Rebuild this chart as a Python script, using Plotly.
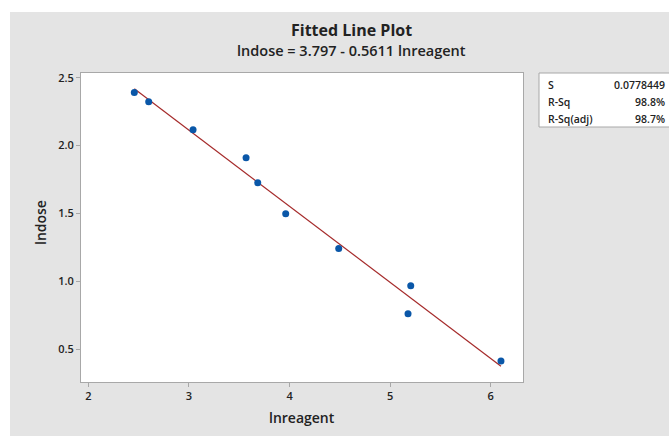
import plotly.graph_objects as go

# Data
lnreagent = [2.457, 2.600, 3.041, 3.568, 3.684, 3.962, 4.489, 5.205, 5.178, 6.102]
lndose = [2.392, 2.323, 2.117, 1.910, 1.726, 1.497, 1.242, 0.966, 0.760, 0.411]
intercept = 3.797
slope = -0.5611
stat_labels = ["S", "R-Sq", "R-Sq(adj)"]
stat_values = ["0.0778449", "98.8%", "98.7%"]
x_ticks = [2, 3, 4, 5, 6]
y_ticks = [0.5, 1.0, 1.5, 2.0, 2.5]

W, H = 669, 436
L, R, T, B = 81, 523, 73, 382  # plot area in picture pixels
pw, ph = R - L, B - T


def px(x):
    return (x - L) / pw


def py(y):
    return (B - y) / ph


xmin, xmax = min(lnreagent), max(lnreagent)
fit_x = [xmin, xmax]
fit_y = [intercept + slope * v for v in fit_x]

fig = go.Figure()
fig.add_trace(go.Scatter(x=fit_x, y=fit_y, mode="lines",
                         line=dict(color="#a52a2a", width=1.2), hoverinfo="skip"))
fig.add_trace(go.Scatter(x=lnreagent, y=lndose, mode="markers",
                         marker=dict(color="#0a57a8", size=7)))

GRAY = "#e4e4e4"
font_main = "Open Sans, Segoe UI, sans-serif"

shapes = [
    # gray panel (white strip left/top stays paper white)
    dict(type="rect", xref="paper", yref="paper", x0=px(10), x1=px(W + 10), y0=py(H + 10), y1=py(12),
         fillcolor=GRAY, line=dict(width=0), layer="below"),
    # white plot area
    dict(type="rect", xref="paper", yref="paper", x0=0, x1=1, y0=0, y1=1,
         fillcolor="white", line=dict(width=0), layer="below"),
    # stats box
    dict(type="rect", xref="paper", yref="paper", x0=px(539), x1=px(W + 3), y0=py(127), y1=py(73),
         fillcolor="white", line=dict(color="#a8a8a8", width=1), layer="below"),
]

annotations = [
    dict(text="<b>Fitted Line Plot</b>", x=px(351), y=py(30), xref="paper", yref="paper",
         showarrow=False, font=dict(size=16, color="#222", family=font_main), xanchor="center", yanchor="middle"),
    dict(text=f"lndose = {intercept:.3f} - {abs(slope):.4f} lnreagent", x=px(351), y=py(51), xref="paper", yref="paper",
         showarrow=False, font=dict(size=14.5, color="#222", family=font_main, weight=600), xanchor="center", yanchor="middle"),
    dict(text="lnreagent", x=px(302), y=py(417), xref="paper", yref="paper",
         showarrow=False, font=dict(size=14, color="#222", family=font_main, weight=600), xanchor="center", yanchor="middle"),
    dict(text="lndose", x=px(40), y=py(223), xref="paper", yref="paper", textangle=-90,
         showarrow=False, font=dict(size=14, color="#222", family=font_main, weight=600), xanchor="center", yanchor="middle"),
]
row_y = [85, 102, 119]
for lab, val, yy in zip(stat_labels, stat_values, row_y):
    annotations.append(dict(text=lab, x=px(546), y=py(yy), xref="paper", yref="paper", showarrow=False,
                            xanchor="left", yanchor="middle",
                            font=dict(size=10.5, color="#222", family=font_main, weight=600)))
    annotations.append(dict(text=val, x=px(667), y=py(yy), xref="paper", yref="paper", showarrow=False,
                            xanchor="right", yanchor="middle",
                            font=dict(size=10.5, color="#222", family=font_main, weight=600)))

axis_common = dict(showgrid=False, zeroline=False, showline=True, mirror=True,
                   linecolor="#a8a8a8", linewidth=1, ticks="outside", ticklen=4,
                   tickcolor="#a8a8a8", tickfont=dict(size=11, color="#222", family=font_main, weight=600))

fig.update_layout(
    width=W, height=H,
    margin=dict(l=L, r=W - R, t=T, b=H - B, pad=0),
    paper_bgcolor="white", plot_bgcolor="white",
    showlegend=False,
    xaxis=dict(range=[1.927, 6.321], tickvals=x_ticks, ticktext=[str(v) for v in x_ticks], **axis_common),
    yaxis=dict(range=[0.257, 2.535], tickvals=y_ticks, ticktext=[f"{v:.1f}" for v in y_ticks], **axis_common),
    shapes=shapes,
    annotations=annotations,
)

fig.write_html("out.html", config={"displayModeBar": False},
               post_script="document.body.style.margin='0px';document.body.style.overflow='hidden';")
